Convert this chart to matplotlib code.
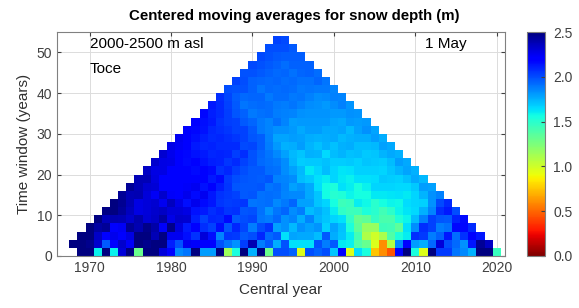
#!/usr/bin/env python3
"""centered moving averages of snow depth, Toce 2000-2500 m asl, 1 May"""
import numpy as np
import matplotlib
matplotlib.use('Agg')
import matplotlib.pyplot as plt

# yearly snow depth (m) on 1 May, read off the bottom row of the chart
# (navy cells are above the 2.5 m top of the colour scale)
years = np.arange(1967, 2021)
snow_depth = [
    2.90, 2.90, 3.10, 2.70, 1.60, 2.70, 1.60, 2.30, 3.10, 1.30,  # 1967-1976
    3.10, 3.00, 2.30, 2.20, 1.85, 1.90, 3.00, 1.80, 1.80, 3.00,  # 1977-1986
    1.15, 1.55, 2.80, 1.75, 2.60, 1.30, 2.00, 2.00, 1.95, 0.95,  # 1987-1996
    2.00, 1.95, 2.00, 1.70, 2.20, 0.95, 1.65, 1.55, 0.75, 0.60,  # 1997-2006
    0.45, 2.20, 2.90, 1.55, 0.95, 2.80, 2.05, 2.05, 1.90, 1.85,  # 2007-2016
    1.75, 2.80, 2.80, 1.45,                                      # 2017-2020
]
hidden_years = [1967, 1968]  # blank in the bottom row of the original
windows = np.arange(1, 55, 2)

x_ticks = [1970, 1980, 1990, 2000, 2010, 2020]
y_ticks = [0, 10, 20, 30, 40, 50]
cbar_ticks = [0.0, 0.5, 1.0, 1.5, 2.0, 2.5]

plt.rcParams['font.family'] = ['Liberation Sans', 'DejaVu Sans']

depth = np.array(snow_depth)
n = len(years)
grid = np.full((len(windows), n), np.nan)
for i, w in enumerate(windows):
    half = (w - 1) // 2
    avg = np.convolve(depth, np.ones(w) / w, mode='valid')
    grid[i, half:half + len(avg)] = avg
for y in hidden_years:
    grid[0, y - years[0]] = np.nan

x_edges = np.append(years - 0.5, years[-1] + 0.5)
y_edges = np.append(windows - 1, windows[-1] + 1)

fig = plt.figure(figsize=(5.79, 3.08), dpi=100)
ax = fig.add_axes([0.0985, 0.169, 0.7735, 0.727])
ax.set_axisbelow(True)
ax.grid(True, color='#dcdcdc', linewidth=0.7)
mesh = ax.pcolormesh(x_edges, y_edges, np.ma.masked_invalid(grid),
                     cmap='jet_r', vmin=0, vmax=2.5)
ax.set_xlim(1966, 2021)
ax.set_ylim(0, 55)
ax.set_xticks(x_ticks)
ax.set_yticks(y_ticks)
ax.tick_params(direction='in', top=True, right=True, labelsize=10,
               colors='#404040', length=3)
for s in ax.spines.values():
    s.set_color('#808080')
ax.set_xlabel('Central year', fontsize=11, color='#303030', labelpad=6)
ax.set_ylabel('Time window (years)', fontsize=11, color='#303030', labelpad=4)
ax.set_title('Centered moving averages for snow depth (m)', fontsize=10.8,
             fontweight='bold', pad=9, x=0.53)

ax.text(1970, 52, '2000-2500 m asl', fontsize=11, va='center')
ax.text(1970, 46, 'Toce', fontsize=11, va='center')
ax.text(2011.2, 52, '1 May', fontsize=11, va='center')

cax = fig.add_axes([0.910, 0.169, 0.031, 0.727])
cb = fig.colorbar(mesh, cax=cax, ticks=cbar_ticks)
cb.ax.tick_params(direction='in', labelsize=10, colors='#404040', length=3,
                  pad=6)
cb.ax.set_yticklabels([f'{t:.1f}' for t in cbar_ticks])
cb.outline.set_edgecolor('#808080')

fig.savefig('out.png', dpi=100)
